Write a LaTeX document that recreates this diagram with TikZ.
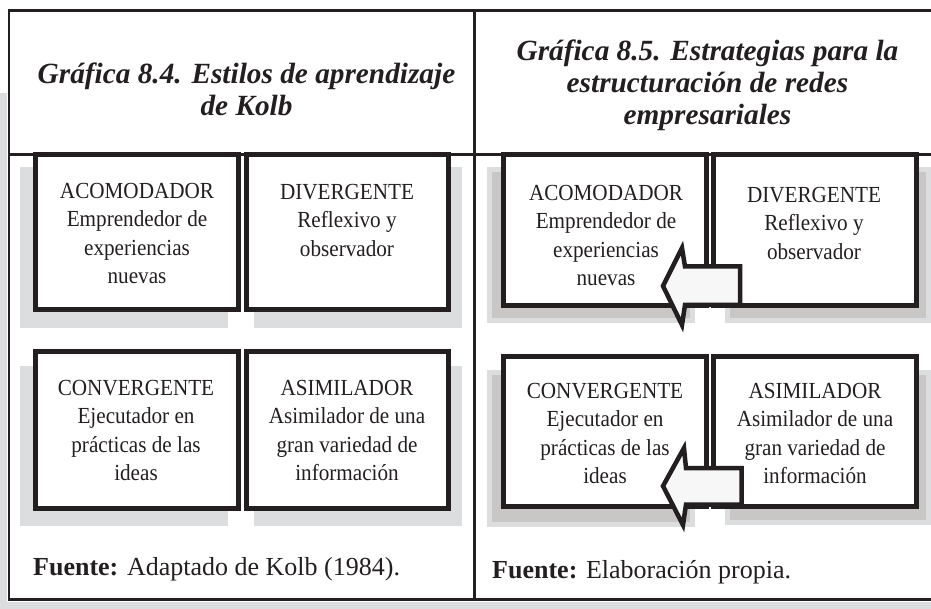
\documentclass[tikz,border=0pt]{standalone}
\usepackage{fontspec}
\setmainfont{Liberation Serif}
\newfontfamily\boxfont{Liberation Serif}[FakeStretch=0.92]
\definecolor{ink}{HTML}{231F20}
\definecolor{shadelight}{HTML}{DCDDDF}
\definecolor{shadedark}{HTML}{C9C6C6}
\definecolor{arrowfill}{HTML}{F7F7F7}
\tikzset{
  frameline/.style={draw=ink, line width=2.6pt},
  boxnode/.style={draw=ink, line width=5pt, fill=white, rectangle, inner sep=0pt, outer sep=0pt},
  bodytext/.style={font=\boxfont\fontsize{23}{28.5}\selectfont, align=center, inner sep=0pt, text=ink, anchor=north},
  titletext/.style={font=\fontsize{29.3}{32}\selectfont\bfseries\itshape, align=center, inner sep=0pt, text=ink, anchor=north},
  sourcetext/.style={font=\fontsize{26}{30}\selectfont, anchor=base west, inner sep=0pt, text=ink},
  lightshadow/.style={fill=shadelight},
  darkshadow/.style={fill=shadedark},
  blockarrow/.style={draw=ink, line width=4.5pt, fill=arrowfill, line join=miter},
}
\begin{document}
\begin{tikzpicture}[x=1pt,y=-1pt]
\useasboundingbox (0,0) rectangle (931,609);
\fill[white] (0,0) rectangle (931,609);
% page shading strips
\fill[lightshadow] (0,93) rectangle (7.3,609);
\fill[lightshadow] (0,601.7) rectangle (931,609);

% frame
\draw[frameline] (8,10.5) -- (931,10.5);
\draw[frameline] (9,9.2) -- (9,600.6);
\draw[frameline] (7.7,599.3) -- (931,599.3);
\draw[frameline] (474.5,9.2) -- (474.5,600.6);
\draw[frameline] (7.7,154.5) -- (931,154.5);

% titles
\node[titletext] (t84) at (246.5,62.5) {Gráfica 8.4. Estilos de aprendizaje\\de Kolb};
\node[titletext] (t85) at (707.5,40) {Gráfica 8.5. Estrategias para la\\estructuración de redes\\empresariales};

% shadows left
\fill[lightshadow] (20,167) rectangle (228,328);
\fill[lightshadow] (254,167) rectangle (462,328);
\fill[lightshadow] (20,366) rectangle (228,526);
\fill[lightshadow] (254,366) rectangle (462,526);
% shadows right
\fill[lightshadow] (487,167) rectangle (695,323);
\fill[darkshadow] (492,172) rectangle (690,318);
\fill[lightshadow] (725,167) rectangle (931,323);
\fill[darkshadow] (730,172) rectangle (926,318);
\fill[lightshadow] (487,370) rectangle (695,527);
\fill[darkshadow] (492,375) rectangle (690,522);
\fill[lightshadow] (725,370) rectangle (931,525);
\fill[darkshadow] (730,375) rectangle (926,520);

% boxes left
\node[boxnode, minimum width=203pt, minimum height=155pt] (bA) at (137,232) {};
\node[boxnode, minimum width=202pt, minimum height=155pt] (bD) at (347.5,232) {};
\node[boxnode, minimum width=203pt, minimum height=157pt] (bC) at (137,430) {};
\node[boxnode, minimum width=202pt, minimum height=157pt] (bS) at (347.5,430) {};
% boxes right
\node[boxnode, minimum width=203pt, minimum height=151pt] (rA) at (605,230) {};
\node[boxnode, minimum width=203pt, minimum height=151pt] (rD) at (815,230) {};
\node[boxnode, minimum width=203pt, minimum height=150pt] (rC) at (605,431.5) {};
\node[boxnode, minimum width=203pt, minimum height=150pt] (rS) at (815,431.5) {};

% texts left
\node[bodytext] (tA) at (137,183) {ACOMODADOR\\Emprendedor de\\experiencias\\nuevas};
\node[bodytext] (tD) at (347,184) {DIVERGENTE\\Reflexivo y\\observador};
\node[bodytext] (tC) at (136,380) {CONVERGENTE\\Ejecutador en\\prácticas de las\\ideas};
\node[bodytext] (tS) at (347,380) {ASIMILADOR\\Asimilador de una\\gran variedad de\\información};
% texts right
\node[bodytext] (uA) at (606,185) {ACOMODADOR\\Emprendedor de\\experiencias\\nuevas};
\node[bodytext] (uD) at (814,186.8) {DIVERGENTE\\Reflexivo y\\observador};
\node[bodytext] (uC) at (605,383) {CONVERGENTE\\Ejecutador en\\prácticas de las\\ideas};
\node[bodytext] (uS) at (815,383) {ASIMILADOR\\Asimilador de una\\gran variedad de\\información};

% block arrows
\draw[blockarrow] (663,286) -- (682,248) -- (685,266.5) -- (740,266.5) -- (740,305) -- (685,305) -- (682,325) -- cycle;
\draw[blockarrow] (663,486) -- (684,448) -- (686,468) -- (741.5,468) -- (741.5,504.5) -- (686,504.5) -- (683,525) -- cycle;

% sources
\node[sourcetext] (s84) at (33,575) {\textbf{Fuente:} Adaptado de Kolb (1984).};
\node[sourcetext] (s85) at (492,578) {\textbf{Fuente:} Elaboración propia.};
\end{tikzpicture}
\end{document}
